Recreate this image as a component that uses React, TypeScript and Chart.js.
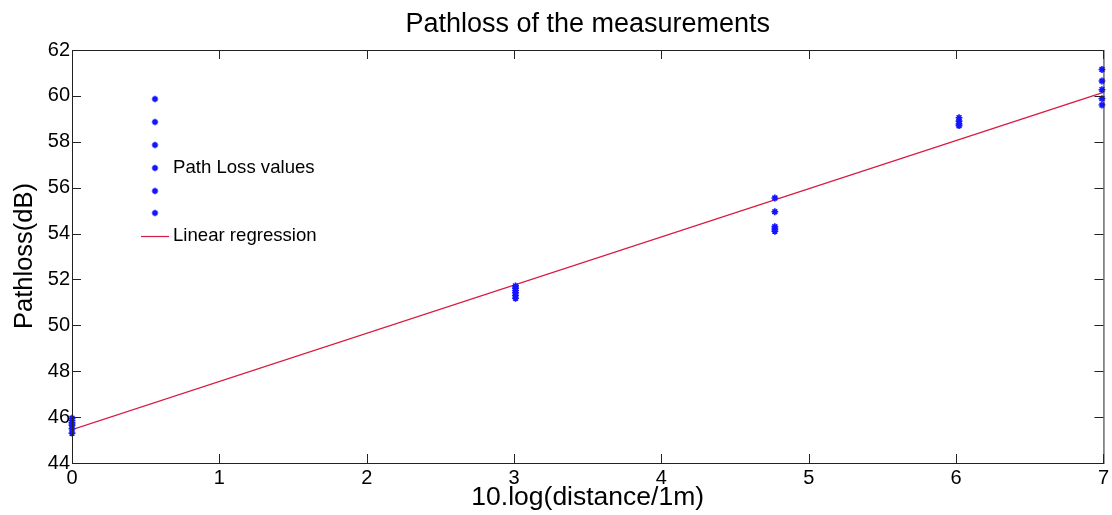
import React, { useEffect, useRef } from "react";
import { Chart, registerables } from "chart.js";

Chart.register(...registerables);

// 10.log10(d/1m) for the measurement distances 1 m, 2 m, 3 m, 4 m, 5 m
const logDistance = [0, 3.01, 4.77, 6.02, 6.99];

// Path loss samples (dB) recorded at each distance
const lossAt1m = [45.95, 45.85, 45.75, 45.65, 45.5, 45.3];
const lossAt2m = [51.72, 51.62, 51.52, 51.42, 51.3, 51.18];
const lossAt3m = [55.55, 54.95, 54.3, 54.2, 54.1];
const lossAt4m = [59.05, 58.9, 58.78, 58.7];
const lossAt5m = [61.15, 60.65, 60.27, 59.88, 59.6];

// Least-squares fit end points
const fitX = [0, 7];
const fitY = [45.45, 60.15];

const xTicks = [0, 1, 2, 3, 4, 5, 6, 7];
const yTicks = [44, 46, 48, 50, 52, 54, 56, 58, 60, 62];

const FONT = "'Liberation Sans', Arial, Helvetica, sans-serif";
const BLUE = "#1414ff";
const RED = "#d81a40";

const groups = [lossAt1m, lossAt2m, lossAt3m, lossAt4m, lossAt5m];
const measurements = groups.flatMap((g, i) => g.map((v) => ({ x: logDistance[i], y: v })));
const fitLine = fitX.map((x, i) => ({ x, y: fitY[i] }));

function drawStar(ctx: CanvasRenderingContext2D, x: number, y: number, r: number) {
  ctx.beginPath();
  for (let k = 0; k < 4; k++) {
    const a = (k * Math.PI) / 4;
    ctx.moveTo(x - r * Math.cos(a), y - r * Math.sin(a));
    ctx.lineTo(x + r * Math.cos(a), y + r * Math.sin(a));
  }
  ctx.stroke();
}

const decorations = {
  id: "matlabFrame",
  afterDraw(chart: any) {
    const { ctx, chartArea: a, scales } = chart;
    const xs = scales.x;
    const ys = scales.y;
    ctx.save();

    // axes box with inward ticks on all four sides
    ctx.strokeStyle = "#222";
    ctx.lineWidth = 1;
    ctx.strokeRect(a.left + 0.5, a.top + 0.5, a.right - a.left, a.bottom - a.top);
    const tl = 9;
    ctx.beginPath();
    xTicks.forEach((t) => {
      const px = Math.round(xs.getPixelForValue(t)) + 0.5;
      ctx.moveTo(px, a.bottom);
      ctx.lineTo(px, a.bottom - tl);
      ctx.moveTo(px, a.top);
      ctx.lineTo(px, a.top + tl);
    });
    yTicks.forEach((t) => {
      const py = Math.round(ys.getPixelForValue(t)) + 0.5;
      ctx.moveTo(a.left, py);
      ctx.lineTo(a.left + tl, py);
      ctx.moveTo(a.right, py);
      ctx.lineTo(a.right - tl, py);
    });
    ctx.stroke();

    // titles
    ctx.fillStyle = "#000";
    ctx.textAlign = "center";
    ctx.textBaseline = "middle";
    ctx.font = `27px ${FONT}`;
    ctx.fillText("Pathloss of the measurements", (a.left + a.right) / 2, 25);
    ctx.font = `26.5px ${FONT}`;
    ctx.fillText("10.log(distance/1m)", (a.left + a.right) / 2, 498);
    ctx.save();
    ctx.translate(25, 256);
    ctx.rotate(-Math.PI / 2);
    ctx.font = `25.5px ${FONT}`;
    ctx.fillText("Pathloss(dB)", 0, 0);
    ctx.restore();

    // legend
    ctx.strokeStyle = BLUE;
    ctx.lineWidth = 1.6;
    [99, 122, 145, 168, 191, 213].forEach((y) => drawStar(ctx, 155, y, 3.2));
    ctx.strokeStyle = RED;
    ctx.lineWidth = 1.2;
    ctx.beginPath();
    ctx.moveTo(141, 236.5);
    ctx.lineTo(169, 236.5);
    ctx.stroke();
    ctx.fillStyle = "#000";
    ctx.textAlign = "left";
    ctx.font = `18.6px ${FONT}`;
    ctx.fillText("Path Loss values", 173, 168);
    ctx.fillText("Linear regression", 173, 236);

    ctx.restore();
  },
};

export default function App() {
  const ref = useRef<HTMLCanvasElement>(null);

  useEffect(() => {
    document.body.style.margin = "0";
    const chart = new Chart(ref.current as HTMLCanvasElement, {
      type: "scatter",
      data: {
        datasets: [
          {
            label: "Path Loss values",
            data: measurements,
            pointStyle: "star",
            pointRadius: 3.4,
            pointBorderWidth: 1.6,
            pointBorderColor: BLUE,
            pointBackgroundColor: BLUE,
            showLine: false,
            clip: false,
          } as any,
          {
            label: "Linear regression",
            data: fitLine,
            showLine: true,
            borderColor: RED,
            borderWidth: 1.3,
            pointRadius: 0,
          },
        ],
      },
      options: {
        animation: false,
        responsive: false,
        devicePixelRatio: 1,
        layout: { padding: { top: 50, right: 4, left: 0, bottom: 0 } },
        plugins: { legend: { display: false }, title: { display: false }, tooltip: { enabled: false } },
        scales: {
          x: {
            type: "linear",
            min: 0,
            max: 7,
            afterFit: (s: any) => {
              s.height = 52;
            },
            afterBuildTicks: (s: any) => {
              s.ticks = xTicks.map((v) => ({ value: v }));
            },
            grid: { display: false, drawTicks: false },
            border: { display: false },
            ticks: { color: "#000", padding: 3, font: { family: FONT, size: 20 } },
          },
          y: {
            type: "linear",
            min: 44,
            max: 62,
            afterFit: (s: any) => {
              s.width = 72;
            },
            afterBuildTicks: (s: any) => {
              s.ticks = yTicks.map((v) => ({ value: v }));
            },
            grid: { display: false, drawTicks: false },
            border: { display: false },
            ticks: { color: "#000", padding: 2, font: { family: FONT, size: 20 } },
          },
        },
      },
      plugins: [decorations],
    });
    return () => chart.destroy();
  }, []);

  return (
    <div style={{ position: "absolute", left: 0, top: 0, width: 1112, height: 515, background: "#fff" }}>
      <canvas ref={ref} width={1112} height={515} style={{ display: "block" }} />
    </div>
  );
}
